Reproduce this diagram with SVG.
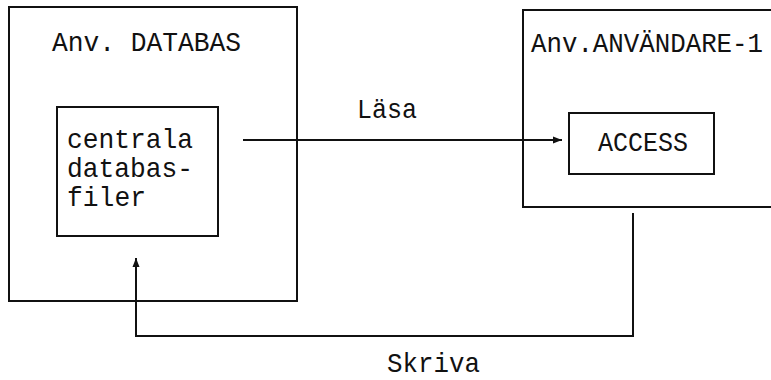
<svg xmlns="http://www.w3.org/2000/svg" width="771" height="380" viewBox="0 0 771 380">
  <defs>
    <marker id="arrow" markerWidth="10" markerHeight="8" refX="9" refY="4" orient="auto" markerUnits="userSpaceOnUse">
      <path d="M0,0.5 L9,4 L0,7.5 Z" fill="#111"/>
    </marker>
  </defs>
  <style>
    .box { fill: none; stroke: #111; stroke-width: 2; }
    .line { fill: none; stroke: #111; stroke-width: 2; }
    text { font-family: "Liberation Mono", "Courier New", monospace; font-size: 28px; fill: #111; }
  </style>
  <rect width="771" height="380" fill="#fff"/>

  <!-- database environment -->
  <g id="anv-databas">
    <rect class="box" x="9" y="7" width="288" height="294"/>
    <text x="52" y="51" textLength="189" lengthAdjust="spacingAndGlyphs">Anv. DATABAS</text>
  </g>

  <!-- central database files -->
  <g id="centrala-databasfiler">
    <rect class="box" x="57" y="107" width="161" height="129"/>
    <text x="67" y="148" textLength="126" lengthAdjust="spacingAndGlyphs">centrala</text>
    <text x="67" y="177" textLength="126" lengthAdjust="spacingAndGlyphs">databas-</text>
    <text x="67" y="206" textLength="79" lengthAdjust="spacingAndGlyphs">filer</text>
  </g>

  <!-- user environment (open to the right) -->
  <g id="anv-anvandare-1">
    <path class="box" d="M771,10 H523 V207 H771"/>
    <text x="531" y="52" textLength="232" lengthAdjust="spacingAndGlyphs">Anv.ANVÄNDARE-1</text>
  </g>

  <!-- ACCESS -->
  <g id="access">
    <rect class="box" x="569" y="113" width="145" height="61"/>
    <text x="598" y="151" textLength="90" lengthAdjust="spacingAndGlyphs">ACCESS</text>
  </g>

  <!-- connectors -->
  <g id="connectors">
    <path class="line" d="M243,140 H562" marker-end="url(#arrow)"/>
    <path class="line" d="M633,213 V336 H136 V258" marker-end="url(#arrow)"/>
    <text x="357" y="118" textLength="60" lengthAdjust="spacingAndGlyphs">Läsa</text>
    <text x="387" y="372" textLength="93" lengthAdjust="spacingAndGlyphs">Skriva</text>
  </g>
</svg>
